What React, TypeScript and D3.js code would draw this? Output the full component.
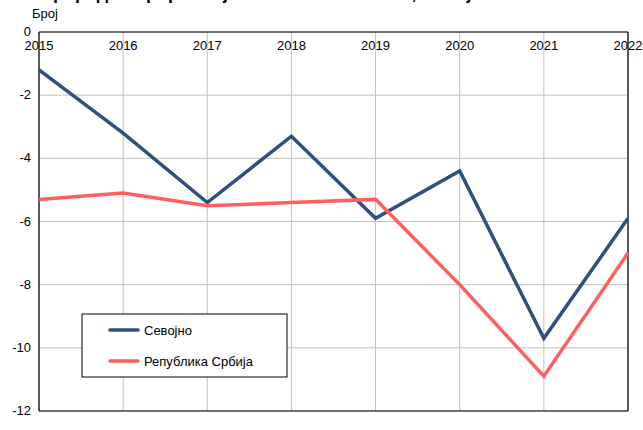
import * as d3 from "d3";

const years = [2015, 2016, 2017, 2018, 2019, 2020, 2021, 2022];
const sevojno = [-1.2, -3.2, -5.4, -3.3, -5.9, -4.4, -9.7, -5.9];
const srbija = [-5.3, -5.1, -5.5, -5.4, -5.3, -8.0, -10.9, -7.0];
const yTicks = [0, -2, -4, -6, -8, -10, -12];

const series = [
  { name: "Севојно", values: sevojno, color: "#2F4F7F" },
  { name: "Република Србија", values: srbija, color: "#FF5F5F" },
];

export default function App() {
  const width = 643;
  const height = 430;
  const margin = { top: 32, right: 15, bottom: 19, left: 39 };
  const innerW = width - margin.left - margin.right;
  const innerH = height - margin.top - margin.bottom;

  const x = d3.scaleLinear().domain([2015, 2022]).range([0, innerW]);
  const y = d3.scaleLinear().domain([0, -12]).range([0, innerH]);

  const line = d3
    .line<number>()
    .x((_, i) => x(years[i]))
    .y((d) => y(d));

  const font = "'Liberation Sans', Arial, sans-serif";

  return (
    <svg
      width={width}
      height={height}
      style={{ position: "fixed", left: 0, top: 0, background: "#fff" }}
      fontFamily={font}
    >
      {/* naslov je u originalu odsečen pri vrhu */}
      <text x={40} y={-1} fontSize={18} fontWeight="bold" fill="#000">
        Природни прираштај на 1.000 становника, Севојно
      </text>
      <text x={32} y={18} fontSize={13} fill="#000">
        Број
      </text>

      <g transform={`translate(${margin.left},${margin.top})`}>
        {/* mreža */}
        {yTicks.map((t) => (
          <line key={"h" + t} x1={0} x2={innerW} y1={y(t)} y2={y(t)} stroke="#c0c0c0" strokeWidth={1} />
        ))}
        {years.map((yr) => (
          <line key={"v" + yr} x1={x(yr)} x2={x(yr)} y1={0} y2={innerH} stroke="#c0c0c0" strokeWidth={1} />
        ))}

        {/* ose */}
        <line x1={0} x2={innerW} y1={0} y2={0} stroke="#000" strokeWidth={1.2} />
        <line x1={0} x2={innerW} y1={innerH} y2={innerH} stroke="#000" strokeWidth={1.2} />
        <line x1={0} x2={0} y1={0} y2={innerH} stroke="#000" strokeWidth={1.2} />
        <line x1={innerW} x2={innerW} y1={0} y2={innerH} stroke="#000" strokeWidth={1.2} />

        {yTicks.map((t) => (
          <text key={"yl" + t} x={-8} y={y(t) + 4} textAnchor="end" fontSize={13} fill="#000">
            {t}
          </text>
        ))}
        {years.map((yr) => (
          <text key={"xl" + yr} x={x(yr)} y={18} textAnchor="middle" fontSize={13} fill="#000">
            {yr}
          </text>
        ))}

        {series.map((s) => (
          <path
            key={s.name}
            d={line(s.values) || ""}
            fill="none"
            stroke={s.color}
            strokeWidth={3.5}
            strokeLinejoin="miter"
          />
        ))}
      </g>

      {/* legenda */}
      <g transform="translate(82,314)">
        <rect x={0} y={0} width={205} height={63} fill="#fff" stroke="#000" strokeWidth={1} />
        {series.map((s, i) => (
          <g key={s.name} transform={`translate(0,${16 + i * 31})`}>
            <line x1={28} x2={56} y1={0} y2={0} stroke={s.color} strokeWidth={3.5} strokeLinecap="round" />
            <text x={62} y={5} fontSize={13} fill="#000">
              {s.name}
            </text>
          </g>
        ))}
      </g>
    </svg>
  );
}
